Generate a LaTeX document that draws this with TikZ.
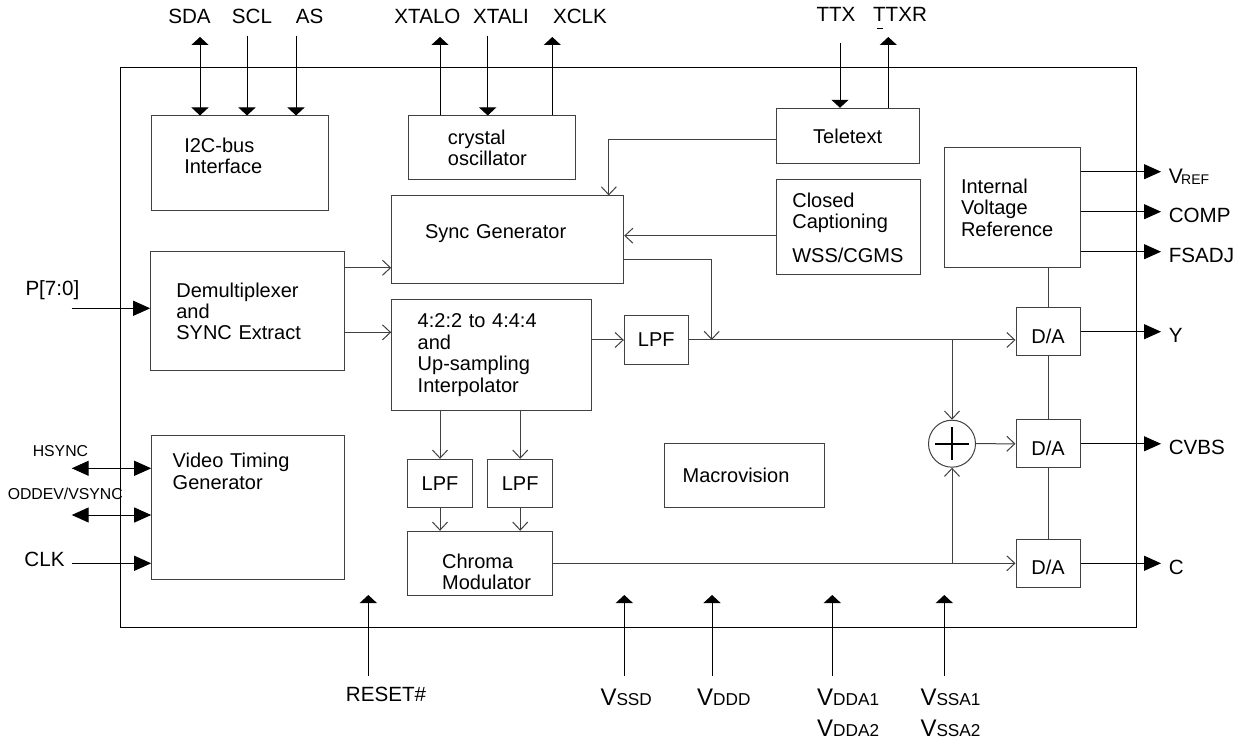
\documentclass[tikz,border=0pt]{standalone}
\usepackage{fontspec}
\setmainfont{Liberation Sans}
\usetikzlibrary{arrows.meta,calc}

% supply pin names: big V with a small suffix on the same baseline
\newcommand{\supply}[2]{{\fontsize{12}{12}\selectfont #1}{\fontsize{8.6}{9}\selectfont #2}}

\begin{document}
\begin{tikzpicture}[
  x=0.5pt,y=-0.5pt,
  line width=0.5pt,
  blk/.style={rectangle,draw=black!75,inner sep=0pt,font=\fontsize{10}{10.7}\selectfont},
  lbl/.style={inner sep=0pt,font=\fontsize{10.3}{12}\selectfont},
  smalllbl/.style={inner sep=0pt,font=\fontsize{7.9}{9}\selectfont},
  wire/.style={draw=black!75},
  sig/.style={draw=black!75,-{Straight Barb[length=4pt,width=7.5pt]}},
  vpin/.style={draw=black,-{Triangle[length=4pt,width=8.5pt]}},
  vbi/.style={draw=black,{Triangle[length=4pt,width=8.5pt]}-{Triangle[length=4pt,width=8.5pt]}},
  hpin/.style={draw=black,-{Triangle[length=8.5pt,width=7.5pt]}},
  hbi/.style={draw=black,{Triangle[length=8.5pt,width=7.5pt]}-{Triangle[length=8.5pt,width=7.5pt]}},
]
\useasboundingbox (0,0) rectangle (1235,742);

% Chip outline
\node[draw,inner sep=0pt,minimum width=508.35pt,minimum height=279.8pt] (chip) at (628.35,347.5) {};

% Top row blocks
\node[blk,minimum width=88.3pt,minimum height=47.5pt,text width=55.7pt,align=left,
  text height=7.5pt,text depth=18.5pt] (i2c) at (240,163.5) {I2C-bus\\Interface};
\node[blk,minimum width=83.7pt,minimum height=32pt,text width=44.1pt,align=left] (xtal) at (492,148) {crystal\\oscillator};
\node[blk,minimum width=71.65pt,minimum height=27.7pt] (ttx) at (847.65,136) {Teletext};
\node[blk,minimum width=72pt,minimum height=47.5pt,text width=55.7pt,align=left] (cc) at (848,227.5) {Closed\\Captioning\\[6.2pt]WSS/CGMS};
\node[blk,minimum width=67.85pt,minimum height=59.8pt,text width=51.15pt,align=left] (ivr) at (1012.15,207.5) {Internal\\Voltage\\Reference};
\node[blk,minimum width=116pt,minimum height=43.65pt,text width=82.7pt,align=left,
  text height=7.5pt,text depth=8.2pt] (sync) at (507.7,239.65) {Sync Generator};

% Video path
\node[blk,minimum width=96.65pt,minimum height=59.65pt,text width=71pt,align=left] (demux) at (247.35,311.35) {Demultiplexer\\and\\SYNC Extract};
\node[blk,minimum width=100pt,minimum height=55.85pt,text width=74pt,align=left] (interp) at (491.7,355.15) {4:2:2 to 4:4:4\\and\\Up-sampling\\Interpolator};
\node[blk,minimum width=32pt,minimum height=24.3pt] (lpfy) at (656.3,340) {LPF};
\node[blk,minimum width=32.3pt,minimum height=24pt] (lpfu) at (440,483.3) {LPF};
\node[blk,minimum width=32.5pt,minimum height=24pt] (lpfv) at (520.2,483.3) {LPF};
\node[blk,minimum width=72.3pt,minimum height=32pt,text width=37.9pt,align=left,
  text height=7.5pt,text depth=2.5pt] (chroma) at (480,563.3) {Chroma\\Modulator};
\node[blk,minimum width=96.15pt,minimum height=71.65pt,text width=75.15pt,align=left,
  text height=7.5pt,text depth=47.2pt] (vtg) at (247.85,507.65) {Video Timing\\Generator};
\node[blk,minimum width=80.15pt,minimum height=32pt,text width=61.45pt,align=left] (macro) at (744.15,475.3) {Macrovision};

% DACs and adder
\node[blk,minimum width=32pt,minimum height=24pt,text height=11.5pt,text depth=0pt] (da1) at (1048,331.7) {D/A};
\node[blk,minimum width=32pt,minimum height=24pt,text height=11.5pt,text depth=0pt] (da2) at (1048,443.8) {D/A};
\node[blk,minimum width=32pt,minimum height=24pt,text height=11.5pt,text depth=0pt] (da3) at (1048,563.3) {D/A};
\node[circle,draw=black!75,inner sep=0pt,minimum size=23.5pt] (add) at (952,443.7) {};
\draw[line width=1pt] ([xshift=-8.5pt]add.center) -- ([xshift=8.5pt]add.center)
  ([yshift=-8.25pt]add.center) -- ([yshift=8.25pt]add.center);

% Top pins
\coordinate (sdap) at (200,37);
\coordinate (sclp) at (247,35.7);
\coordinate (asp) at (296,35.7);
\coordinate (xtalop) at (440,37);
\coordinate (xtalip) at (487.7,35.7);
\coordinate (xclkp) at (552.3,37);
\coordinate (ttxp) at (840,43);
\coordinate (ttxrp) at (888.3,37);
\draw[vbi] (sdap) -- (sdap |- i2c.north);
\draw[vpin] (sclp) -- (sclp |- i2c.north);
\draw[vpin] (asp) -- (asp |- i2c.north);
\draw[vpin] (xtalop |- xtal.north) -- (xtalop);
\draw[vpin] (xtalip) -- (xtalip |- xtal.north);
\draw[vpin] (xclkp |- xtal.north) -- (xclkp);
\draw[vpin] (ttxp) -- (ttxp |- ttx.north);
\draw[vpin] (ttxrp |- ttx.north) -- (ttxrp);
\node[lbl,anchor=base] (sdal) at (189.5,24) {SDA};
\node[lbl,anchor=base] (scll) at (252,24) {SCL};
\node[lbl,anchor=base] (asl) at (309.5,24) {AS};
\node[lbl,anchor=base] (xtalol) at (427.5,24) {XTALO};
\node[lbl,anchor=base] (xtalil) at (501,24) {XTALI};
\node[lbl,anchor=base] (xclkl) at (580,24) {XCLK};
\node[lbl,anchor=base] (ttxl) at (836,22) {TTX};
\node[lbl,anchor=base] (ttxrl) at (900,22) {TTXR};
\draw (877,28.5) -- (883,28.5);

% Left pins
\coordinate (pp) at (71.7,308.3);
\coordinate (hsp) at (71.7,468.3);
\coordinate (vsp) at (71.7,515);
\coordinate (clkp) at (71.7,563.3);
\draw[hpin] (pp) -- (pp -| demux.west);
\draw[hbi] (hsp) -- (hsp -| vtg.west);
\draw[hbi] (vsp) -- (vsp -| vtg.west);
\draw[hpin] (clkp) -- (clkp -| vtg.west);
\node[lbl,anchor=base west] (pl) at (25,296) {P[7:0]};
\node[smalllbl,anchor=base west] (hsl) at (32.3,456.5) {HSYNC};
\node[smalllbl,anchor=base west] (vsl) at (7.3,499.7) {ODDEV/VSYNC};
\node[lbl,anchor=base west] (clkl) at (24,566.5) {CLK};

% Internal data flow
\coordinate (yjoin) at (711.7,340);
\coordinate (ytap) at (952,340);
\coordinate (ctap) at (952,563.3);
\draw[sig] ([yshift=-1.65pt]ttx.west) -| ([xshift=-7.7pt]sync.north east);
\draw[sig] ([yshift=-4.1pt]cc.west) -- ([yshift=-4.1pt]cc.west -| sync.east);
\draw[sig] ([yshift=-9.8pt]sync.east) -| (yjoin);
\draw[sig] ([yshift=21.8pt]demux.east) -- ([yshift=21.8pt]demux.east -| sync.west);
\draw[sig] ([yshift=-10.5pt]demux.east) -- ([yshift=-10.5pt]demux.east -| interp.west);
\draw[sig] (interp.east |- lpfy.west) -- (lpfy.west);
\draw[sig] (lpfu.north |- interp.south) -- (lpfu.north);
\draw[sig] (lpfv.north |- interp.south) -- (lpfv.north);
\draw[sig] (lpfu.south) -- (lpfu.south |- chroma.north);
\draw[sig] (lpfv.south) -- (lpfv.south |- chroma.north);
\draw[sig] (lpfy.east) -- (lpfy.east -| da1.west);
\draw[sig] (chroma.east) -- (da3.west);
\draw[sig] (ytap) -- (add.north);
\draw[sig] (ctap) -- (add.south);
\draw[sig] (add.east) -- (da2.west);
\draw[wire] (da1.north |- ivr.south) -- (da1.north)
  (da1.south) -- (da2.north)
  (da2.south) -- (da3.north);

% Right pins
\coordinate (vrefp) at (1161,171.7);
\coordinate (compp) at (1161,211.7);
\coordinate (fsadjp) at (1161,251.7);
\coordinate (yp) at (1161,331.7);
\coordinate (cvbsp) at (1161,443.8);
\coordinate (cp) at (1161,563.3);
\draw[hpin] (vrefp -| ivr.east) -- (vrefp);
\draw[hpin] (compp -| ivr.east) -- (compp);
\draw[hpin] (fsadjp -| ivr.east) -- (fsadjp);
\draw[hpin] (da1.east) -- (yp);
\draw[hpin] (da2.east) -- (cvbsp);
\draw[hpin] (da3.east) -- (cp);
\node[lbl,anchor=base west] (vrefl) at (1168.3,183.3) {{\fontsize{10.5}{12}\selectfont V}\kern-0.8pt\raisebox{-0.8pt}{\fontsize{7}{8}\selectfont REF}};
\node[lbl,anchor=base west] (compl) at (1168.3,222.7) {COMP};
\node[lbl,anchor=base west] (fsadjl) at (1168.3,262.7) {FSADJ};
\node[lbl,anchor=base west] (yl) at (1168.3,342.7) {Y};
\node[lbl,anchor=base west] (cvbsl) at (1168.3,454.7) {CVBS};
\node[lbl,anchor=base west] (cl) at (1168.3,574.3) {C};

% Bottom pins
\coordinate (rstp) at (368.3,676);
\coordinate (rsti) at (368.3,595);
\coordinate (vssdp) at (624.3,676);
\coordinate (vssdi) at (624.3,595);
\coordinate (vdddp) at (712,676);
\coordinate (vdddi) at (712,595);
\coordinate (vddap) at (832.3,676);
\coordinate (vddai) at (832.3,595);
\coordinate (vssap) at (944.3,676);
\coordinate (vssai) at (944.3,595);
\draw[vpin] (rstp) -- (rsti);
\draw[vpin] (vssdp) -- (vssdi);
\draw[vpin] (vdddp) -- (vdddi);
\draw[vpin] (vddap) -- (vddai);
\draw[vpin] (vssap) -- (vssai);
\node[lbl,anchor=base] (rstl) at (386,701.7) {RESET\#};
\node[inner sep=0pt,anchor=base west] (vssdl) at (600,705.7) {\supply{V}{SSD}};
\node[inner sep=0pt,anchor=base west] (vdddl) at (696.7,705.7) {\supply{V}{DDD}};
\node[inner sep=0pt,anchor=base west] (vdda1l) at (816.7,705.7) {\supply{V}{DDA1}};
\node[inner sep=0pt,anchor=base west] (vdda2l) at (816.7,736.7) {\supply{V}{DDA2}};
\node[inner sep=0pt,anchor=base west] (vssa1l) at (920,705.7) {\supply{V}{SSA1}};
\node[inner sep=0pt,anchor=base west] (vssa2l) at (920,736.7) {\supply{V}{SSA2}};

\end{tikzpicture}
\end{document}
